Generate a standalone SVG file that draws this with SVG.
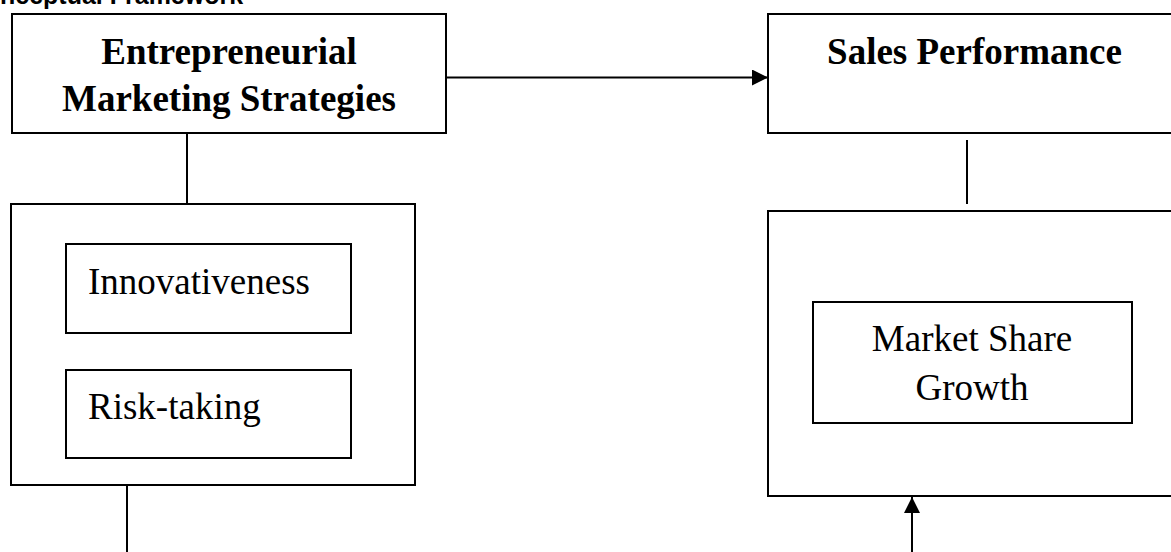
<svg xmlns="http://www.w3.org/2000/svg" width="1171" height="552" viewBox="0 0 1171 552">
<style>
.box{fill:#fff;stroke:#000;stroke-width:2}
.inner{fill:#fff;stroke:#000;stroke-width:2}
.head{font-family:"Liberation Serif","Times New Roman",serif;font-weight:bold;font-size:37px;fill:#000}
.lbl{font-family:"Liberation Serif","Times New Roman",serif;font-size:37px;fill:#000}
.conn{stroke:#000;stroke-width:2;fill:none}
.ttl{font-family:"Liberation Sans",Arial,sans-serif;font-weight:bold;font-size:25px;fill:#000}
</style>
<defs>
<marker id="arr" viewBox="0 0 16 16" refX="16" refY="8" markerWidth="16" markerHeight="16" markerUnits="userSpaceOnUse" orient="auto">
<path d="M0,0 L16,8 L0,16 Z" fill="#000"/>
</marker>
</defs>
<rect width="1171" height="552" fill="#fff"/>
<text class="ttl" x="0" y="4">nceptual Framework</text>
<g id="connectors">
<line class="conn" x1="446" y1="77.5" x2="768" y2="77.5" marker-end="url(#arr)"/>
<line class="conn" x1="187" y1="133" x2="187" y2="204"/>
<line class="conn" x1="967" y1="140" x2="967" y2="204"/>
<line class="conn" x1="127" y1="485" x2="127" y2="552"/>
<line class="conn" x1="912" y1="552" x2="912" y2="497" marker-end="url(#arr)"/>
</g>
<g id="ems">
<rect class="box" x="12" y="14" width="434" height="119"/>
<text class="head" x="229" y="64" text-anchor="middle">Entrepreneurial</text>
<text class="head" x="229" y="111" text-anchor="middle">Marketing Strategies</text>
</g>
<g id="sales">
<rect class="box" x="768" y="14" width="413" height="119"/>
<text class="head" x="974.5" y="64" text-anchor="middle">Sales Performance</text>
</g>
<g id="ems-dims">
<rect class="box" x="11" y="204" width="404" height="281"/>
</g>
<g id="innovativeness">
<rect class="inner" x="66" y="244" width="285" height="89"/>
<text class="lbl" x="88" y="294">Innovativeness</text>
</g>
<g id="risk">
<rect class="inner" x="66" y="370" width="285" height="88"/>
<text class="lbl" x="88" y="419">Risk-taking</text>
</g>
<g id="sales-dims">
<rect class="box" x="768" y="211" width="413" height="285"/>
</g>
<g id="market-share">
<rect class="inner" x="813" y="302" width="319" height="121"/>
<text class="lbl" x="972" y="351" text-anchor="middle">Market Share</text>
<text class="lbl" x="972" y="400" text-anchor="middle">Growth</text>
</g>
</svg>
